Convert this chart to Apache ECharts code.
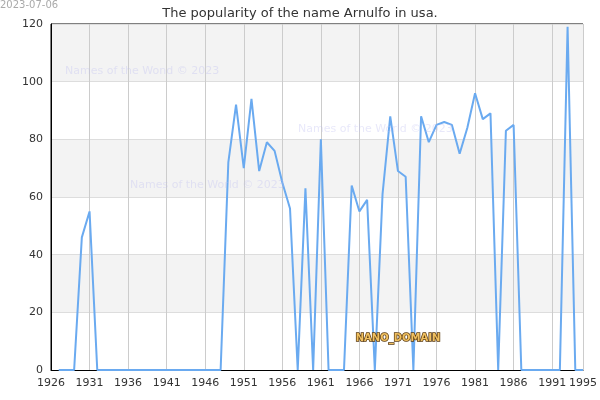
<!DOCTYPE html><html><head><meta charset="utf-8"><script src="https://cdn.jsdelivr.net/npm/echarts@6/dist/echarts.min.js"></script></head><body style="margin:0"><div id="c" style="width:600px;height:400px"></div><script>
const years=[];for(let y=1927;y<=1995;y++)years.push(y);
const values=[0,0,0,46,55,0,0,0,0,0,0,0,0,0,0,0,0,0,0,0,0,0,72,92,70,94,69,79,76,65,56,0,63,0,80,0,0,0,64,55,59,0,61,88,69,67,0,88,79,85,86,85,75,84,96,87,89,0,83,85,0,0,0,0,0,0,119,0,0];
const xTicks=[1926,1931,1936,1941,1946,1951,1956,1961,1966,1971,1976,1981,1986,1991,1995];
const c=echarts.init(document.getElementById('c'));
function wm(l,t,txt){return {type:'text',left:l,top:t,z:100,style:{text:txt,fill:'rgba(190,190,240,0.35)',fontSize:11,fontFamily:'DejaVu Sans'}};}
c.setOption({animation:false,
title:{text:'The popularity of the name Arnulfo in usa.',left:'center',top:2,textStyle:{fontSize:13,fontWeight:'normal',color:'#333',fontFamily:'DejaVu Sans'}},
graphic:[{type:'text',left:0,top:0,style:{text:'2023-07-06',fill:'#aaa',fontSize:10,fontFamily:'DejaVu Sans'}},
wm(65,66,'Names of the Wond © 2023'),wm(298,124,'Names of the World © 2023'),wm(130,180,'Names of the World © 2023'),
{type:'text',left:355,top:333,z:100,style:{text:'NANO_DOMAIN',fill:'#f0c060',stroke:'#5a3a10',lineWidth:1.5,fontSize:10,fontWeight:'bold',fontFamily:'DejaVu Sans'}}],
grid:{left:51,right:14,top:24,bottom:30,show:true,borderColor:'#000',borderWidth:1,backgroundColor:'transparent'},
xAxis:{type:'value',min:1926,max:1995,interval:5,
 axisLine:{lineStyle:{color:'#000'}},axisTick:{show:false},
 axisLabel:{color:'#333',fontSize:11,fontFamily:'DejaVu Sans',customValues:xTicks,formatter:v=>String(v)},
 splitLine:{show:true,lineStyle:{color:'#ccc'}}},
yAxis:{type:'value',min:0,max:120,interval:20,axisLine:{show:true,lineStyle:{color:'#000'}},axisTick:{show:false},
 axisLabel:{color:'#333',fontSize:11,fontFamily:'DejaVu Sans'},
 splitLine:{lineStyle:{color:'#ddd'}},splitArea:{show:true,areaStyle:{color:['#fff','#f3f3f3']}}},
series:[{type:'line',data:years.map((y,i)=>[y,values[i]]),showSymbol:false,lineStyle:{color:'#6aaaf0',width:2}}]
});
</script></body></html>
